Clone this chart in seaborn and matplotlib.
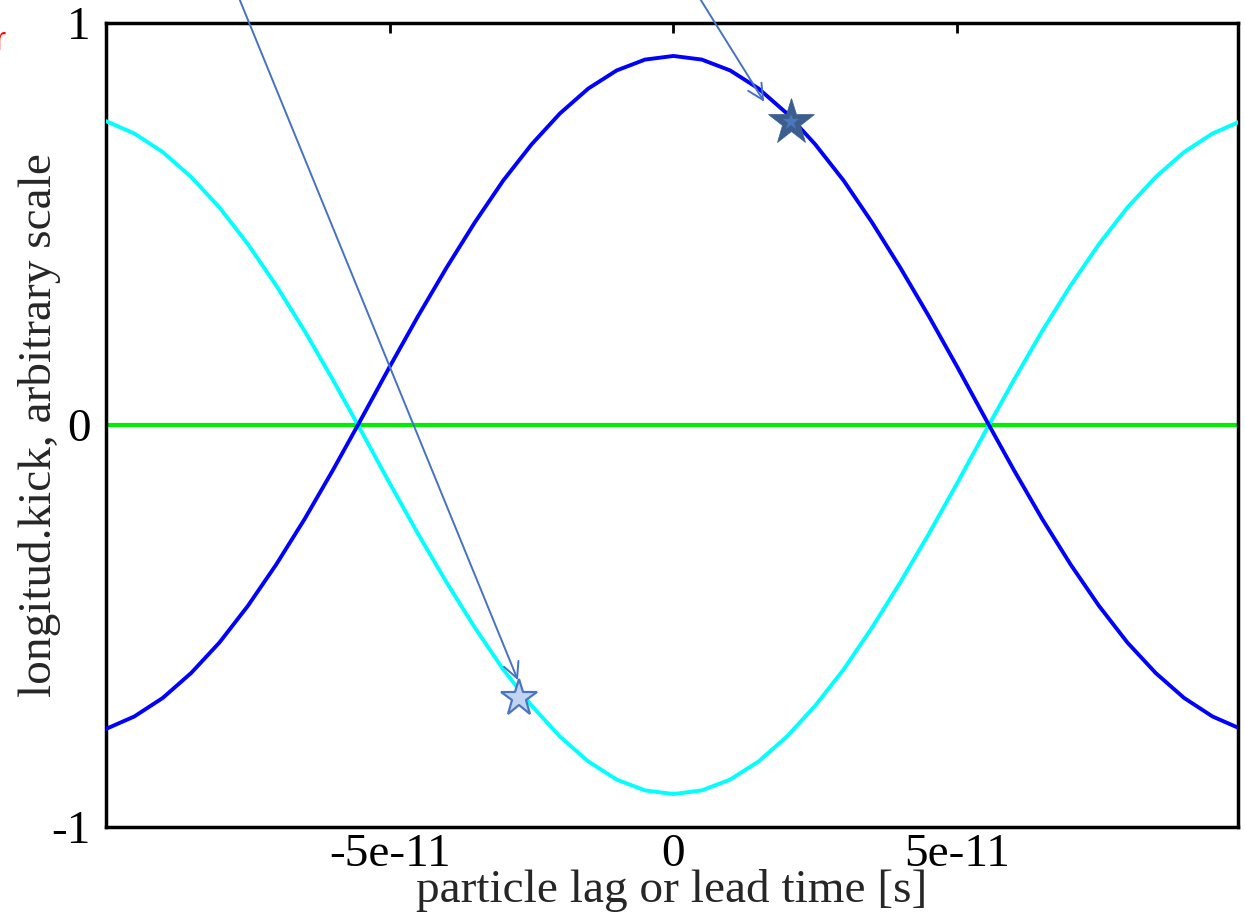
import numpy as np
import pandas as pd
import matplotlib
matplotlib.use("Agg")
import matplotlib.pyplot as plt
import seaborn as sns

# time axis in seconds
t_s = np.array([-10.0, -9.5, -9.0, -8.5, -8.0, -7.5, -7.0, -6.5, -6.0, -5.56,
                -5.0, -4.5, -4.0, -3.5, -3.0, -2.5, -2.0, -1.5, -1.0, -0.5, 0.0,
                0.5, 1.0, 1.5, 2.0, 2.5, 3.0, 3.5, 4.0, 4.5, 5.0,
                5.56, 6.0, 6.5, 7.0, 7.5, 8.0, 8.5, 9.0, 9.5, 10.0]) * 1e-11

kick_blue = np.array([-0.756, -0.725, -0.679, -0.617, -0.541, -0.450, -0.347, -0.234, -0.112, 0.000,
                      0.145, 0.271, 0.391, 0.504, 0.608, 0.698, 0.775, 0.837, 0.882, 0.909, 0.918,
                      0.909, 0.882, 0.837, 0.775, 0.698, 0.608, 0.504, 0.391, 0.271, 0.145,
                      0.000, -0.112, -0.234, -0.347, -0.450, -0.541, -0.617, -0.679, -0.725, -0.756])

kick_cyan = np.array([0.756, 0.725, 0.679, 0.617, 0.541, 0.450, 0.347, 0.234, 0.112, 0.000,
                      -0.145, -0.271, -0.391, -0.504, -0.608, -0.698, -0.775, -0.837, -0.882, -0.909, -0.918,
                      -0.909, -0.882, -0.837, -0.775, -0.698, -0.608, -0.504, -0.391, -0.271, -0.145,
                      0.000, 0.112, 0.234, 0.347, 0.450, 0.541, 0.617, 0.679, 0.725, 0.756])

zero_t = [-1.0e-10, 1.0e-10]
zero_v = [0.0, 0.0]

x_ticks = [-5e-11, 0, 5e-11]
x_ticklabels = ["-5e-11", "0", "5e-11"]
y_ticks = [-1, 0, 1]
y_ticklabels = ["-1", "0", "1"]

# star markers (particles)
star_light = (-2.72e-11, -0.680)
star_dark = (2.08e-11, 0.754)
arrow_light_tail = (-7.65e-11, 1.06)
arrow_dark_tail = (0.47e-11, 1.06)

sns.set_style("white")
plt.rcParams['font.family'] = ['Liberation Serif', 'DejaVu Serif']
plt.rcParams['axes.unicode_minus'] = False

fig = plt.figure(figsize=(12.45, 9.18), dpi=100)
ax = fig.add_axes([106 / 1245, 91 / 918, (1238 - 106) / 1245, (827 - 23) / 918])

df_b = pd.DataFrame({"t": t_s, "v": kick_blue})
df_c = pd.DataFrame({"t": t_s, "v": kick_cyan})
df_z = pd.DataFrame({"t": zero_t, "v": zero_v})

sns.lineplot(data=df_z, x="t", y="v", ax=ax, color="#00ee00", lw=3.0, sort=False, zorder=2)
sns.lineplot(data=df_c, x="t", y="v", ax=ax, color="#00ffff", lw=2.8, sort=False, zorder=3)
sns.lineplot(data=df_b, x="t", y="v", ax=ax, color="#0000ff", lw=2.8, sort=False, zorder=4)

ax.set_xlim(-1.0e-10, 0.995e-10)
ax.set_ylim(-1, 1)
ax.set_xticks(x_ticks)
ax.set_xticklabels(x_ticklabels)
ax.set_yticks(y_ticks)
ax.set_yticklabels(y_ticklabels)
ax.tick_params(axis='both', direction='in', length=7, width=2, labelsize=34,
               top=True, right=True, colors='black')
ax.tick_params(axis='x', pad=5)
ax.tick_params(axis='y', pad=11)
for sp in ax.spines.values():
    sp.set_color('black')
    sp.set_linewidth(2.5)

ax.set_xlabel("particle lag or lead time [s]", fontsize=34, labelpad=-5)
ax.set_ylabel("longitud.kick, arbitrary scale", fontsize=34, labelpad=-7)

# stars
ax.plot([star_light[0]], [star_light[1]], marker='*', ms=28, mfc='#c3d4f2',
        mec='#4a76c0', mew=1.6, zorder=6, clip_on=False)
ax.plot([star_dark[0]], [star_dark[1]], marker='*', ms=35, mfc='#3b5e8e',
        mec='#3b5e8e', mew=0.5, zorder=6, clip_on=False)
ax.plot([star_dark[0]], [star_dark[1]], marker='*', ms=12, mfc='#4a78b8',
        mec='#4a78b8', mew=0, zorder=7, clip_on=False)

# arrows from above the axes to the stars
ax.annotate("", xy=(star_light[0] - 0.02e-11, star_light[1] + 0.045), xytext=arrow_light_tail,
            arrowprops=dict(arrowstyle="->", color="#4472c4", lw=1.4, mutation_scale=28,
                            shrinkA=0, shrinkB=0),
            annotation_clip=False, zorder=8)
ax.annotate("", xy=(star_dark[0] - 0.48e-11, star_dark[1] + 0.05), xytext=arrow_dark_tail,
            arrowprops=dict(arrowstyle="->", color="#4472c4", lw=1.4, mutation_scale=28,
                            shrinkA=0, shrinkB=0),
            annotation_clip=False, zorder=8)

fig.text(-0.004, 0.945, "r", color="red", fontsize=24, family=['Liberation Sans'])

fig.savefig("out.png", dpi=100)
